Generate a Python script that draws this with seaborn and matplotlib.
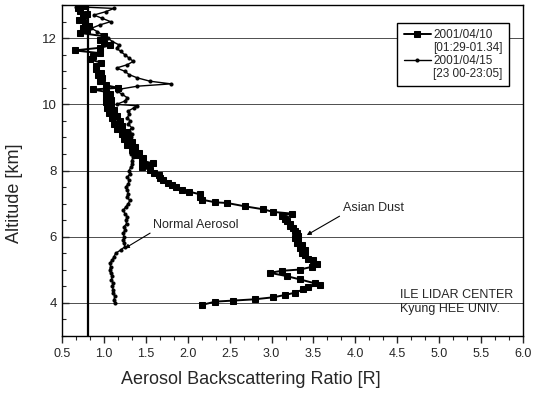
import numpy as np
import pandas as pd
import matplotlib
matplotlib.use("Agg")
import matplotlib.pyplot as plt
from matplotlib.ticker import MultipleLocator, AutoMinorLocator
import seaborn as sns

# 2001/04/10 (Asian dust), altitude [km] and backscattering ratio
dust_alt = [3.94, 4.04, 4.07, 4.11, 4.17, 4.24, 4.31, 4.41, 4.49, 4.54, 4.59, 4.71, 4.81, 4.91,
            4.97, 5.01, 5.09, 5.19, 5.29, 5.34, 5.44, 5.52, 5.59, 5.66, 5.74, 5.82, 5.89, 5.95,
            6.02, 6.10, 6.18, 6.25, 6.33, 6.40, 6.48, 6.55, 6.62, 6.70, 6.75, 6.83, 6.92, 7.02,
            7.04, 7.12, 7.20, 7.28, 7.36, 7.42, 7.50, 7.56, 7.62, 7.70, 7.78, 7.86, 7.94, 8.02,
            8.10, 8.16, 8.22, 8.30, 8.38, 8.46, 8.54, 8.62, 8.70, 8.78, 8.86, 8.94, 9.02, 9.10,
            9.18, 9.26, 9.34, 9.42, 9.50, 9.58, 9.66, 9.74, 9.82, 9.90, 9.98, 10.06, 10.14,
            10.22, 10.30, 10.38, 10.45, 10.50, 10.58, 10.70, 10.80, 10.88, 10.96, 11.06, 11.16,
            11.26, 11.36, 11.46, 11.55, 11.63, 11.71, 11.78, 11.86, 11.96, 12.06, 12.16, 12.24,
            12.31, 12.38, 12.46, 12.56, 12.66, 12.74, 12.81, 12.91, 12.97]
dust_r = [2.17, 2.33, 2.54, 2.80, 3.02, 3.16, 3.28, 3.38, 3.44, 3.58, 3.52, 3.34, 3.18, 2.98,
          3.12, 3.34, 3.48, 3.54, 3.50, 3.44, 3.40, 3.36, 3.40, 3.34, 3.36, 3.30, 3.32, 3.28,
          3.32, 3.30, 3.28, 3.26, 3.22, 3.22, 3.18, 3.16, 3.12, 3.24, 3.02, 2.90, 2.68, 2.47,
          2.33, 2.17, 2.15, 2.15, 2.02, 1.93, 1.86, 1.81, 1.77, 1.70, 1.67, 1.66, 1.60, 1.55,
          1.46, 1.52, 1.58, 1.45, 1.47, 1.38, 1.42, 1.33, 1.37, 1.28, 1.33, 1.24, 1.30, 1.21,
          1.27, 1.16, 1.22, 1.12, 1.19, 1.10, 1.15, 1.06, 1.12, 1.04, 1.09, 1.02, 1.08,
          1.03, 1.07, 1.02, 0.87, 1.17, 1.02, 0.95, 0.98, 0.93, 0.96, 0.90, 0.91,
          0.97, 0.83, 0.87, 0.95, 0.65, 0.95, 1.07, 1.00, 0.95, 1.00, 0.71, 0.80,
          0.75, 0.82, 0.77, 0.70, 0.75, 0.80, 0.71, 0.69, 0.78]

# 2001/04/15 (normal aerosol)
norm_alt = [3.99, 4.10, 4.20, 4.30, 4.40, 4.50, 4.60, 4.70, 4.80, 4.90, 5.00, 5.10, 5.20, 5.30,
            5.40, 5.50, 5.60, 5.70, 5.80, 5.90, 6.00, 6.10, 6.20, 6.30, 6.40, 6.50, 6.60, 6.70,
            6.80, 6.90, 7.00, 7.10, 7.20, 7.30, 7.40, 7.50, 7.60, 7.70, 7.80, 7.90, 8.00, 8.10,
            8.20, 8.30, 8.40, 8.50, 8.60, 8.70, 8.80, 8.90, 9.00, 9.10, 9.20, 9.30, 9.40, 9.50,
            9.60, 9.70, 9.80, 9.90, 9.96, 10.00, 10.10, 10.20, 10.30, 10.40, 10.46, 10.55,
            10.62, 10.70, 10.80, 10.90, 11.00, 11.10, 11.20, 11.30, 11.40, 11.50, 11.60,
            11.70, 11.80, 11.90, 12.00, 12.10, 12.20, 12.30, 12.40, 12.50, 12.60, 12.70,
            12.80, 12.90, 12.95]
norm_r = [1.13, 1.12, 1.13, 1.11, 1.11, 1.10, 1.11, 1.09, 1.10, 1.08, 1.07, 1.08, 1.07, 1.10,
          1.12, 1.14, 1.20, 1.25, 1.24, 1.23, 1.24, 1.23, 1.25, 1.24, 1.27, 1.26, 1.28, 1.25,
          1.23, 1.26, 1.29, 1.31, 1.27, 1.29, 1.28, 1.26, 1.29, 1.30, 1.28, 1.31, 1.30, 1.32,
          1.34, 1.33, 1.35, 1.32, 1.34, 1.36, 1.33, 1.35, 1.32, 1.34, 1.30, 1.33, 1.29, 1.31,
          1.28, 1.30, 1.29, 1.36, 1.39, 1.15, 1.25, 1.28, 1.22, 1.16, 1.19, 1.40,
          1.80, 1.55, 1.40, 1.30, 1.25, 1.15, 1.28, 1.35, 1.30, 1.25, 1.20,
          1.15, 1.18, 1.10, 1.05, 0.98, 0.92, 0.85, 0.95, 1.08, 0.98, 0.88,
          1.02, 1.12, 0.67]

rayleigh_r = 0.81
dates = ["2001/04/10", "2001/04/15"]
times = ["[01:29-01.34]", "[23 00-23:05]"]

sns.set_style("ticks")
plt.rcParams["font.family"] = ["Liberation Sans", "DejaVu Sans"]

fig = plt.figure(figsize=(5.37, 3.93), dpi=100)
ax = fig.add_axes([0.1155, 0.145, 0.8585, 0.842])

for yv in [4, 6, 8, 10, 12]:
    ax.axhline(yv, color="0.3", lw=0.7, zorder=0)
ax.axvline(rayleigh_r, color="black", lw=1.6, zorder=1)

df_dust = pd.DataFrame({"R": dust_r, "alt": dust_alt})
df_norm = pd.DataFrame({"R": norm_r, "alt": norm_alt})
sns.lineplot(data=df_dust, x="R", y="alt", sort=False, estimator=None, orient="y", ax=ax,
             color="black", lw=1.4, marker="s", markersize=4, markeredgecolor="black",
             label=dates[0])
sns.lineplot(data=df_norm, x="R", y="alt", sort=False, estimator=None, orient="y", ax=ax,
             color="black", lw=1.0, marker="o", markersize=2.2, markeredgecolor="black",
             label=dates[1])

ax.set_xlim(0.5, 6.0)
ax.set_ylim(3, 13)
ax.xaxis.set_major_locator(MultipleLocator(0.5))
ax.xaxis.set_minor_locator(AutoMinorLocator(3))
ax.yaxis.set_major_locator(MultipleLocator(2))
ax.yaxis.set_minor_locator(AutoMinorLocator(4))
ax.xaxis.set_major_formatter(matplotlib.ticker.FormatStrFormatter("%.1f"))
ax.tick_params(axis="x", which="major", direction="out", length=5, width=1, labelsize=9)
ax.tick_params(axis="x", which="minor", direction="out", length=3, width=0.8)
ax.tick_params(axis="y", which="major", direction="in", length=5, width=1, labelsize=9.5)
ax.tick_params(axis="y", which="minor", direction="in", length=3, width=0.8)
for s in ax.spines.values():
    s.set_linewidth(1.0)
    s.set_color("black")

ax.set_xlabel("Aerosol Backscattering Ratio [R]", fontsize=13)
ax.xaxis.set_label_coords(0.41, -0.105)
ax.set_ylabel("Altitude [km]", fontsize=13)
ax.yaxis.set_label_coords(-0.085, 0.43)

ax.annotate("Normal Aerosol", xy=(1.25, 5.65), xytext=(1.59, 6.35), fontsize=9,
            va="center", ha="left",
            arrowprops=dict(arrowstyle="-|>", lw=0.8, color="black", mutation_scale=6,
                            shrinkA=0, shrinkB=0, relpos=(0, 0)))
ax.annotate("Asian Dust", xy=(3.42, 6.05), xytext=(3.85, 6.86), fontsize=9,
            va="center", ha="left",
            arrowprops=dict(arrowstyle="-|>", lw=0.8, color="black", mutation_scale=6,
                            shrinkA=0, shrinkB=0, relpos=(0, 0)))
ax.text(4.53, 4.24, "ILE LIDAR CENTER", fontsize=9, va="center", ha="left")
ax.text(4.53, 3.82, "Kyung HEE UNIV.", fontsize=9, va="center", ha="left")

handles, _ = ax.get_legend_handles_labels()
blank = plt.Line2D([], [], color="none")
leg = ax.legend([handles[0], blank, handles[1], blank],
                [dates[0], times[0], dates[1], times[1]],
                loc="upper right", bbox_to_anchor=(0.983, 0.965), fontsize=8.5,
                frameon=True, fancybox=False, edgecolor="black", framealpha=1,
                handlelength=2.3, handletextpad=0.2, labelspacing=0.08, borderpad=0.55)
leg.get_frame().set_linewidth(1.0)

fig.savefig("out.png", dpi=100)
